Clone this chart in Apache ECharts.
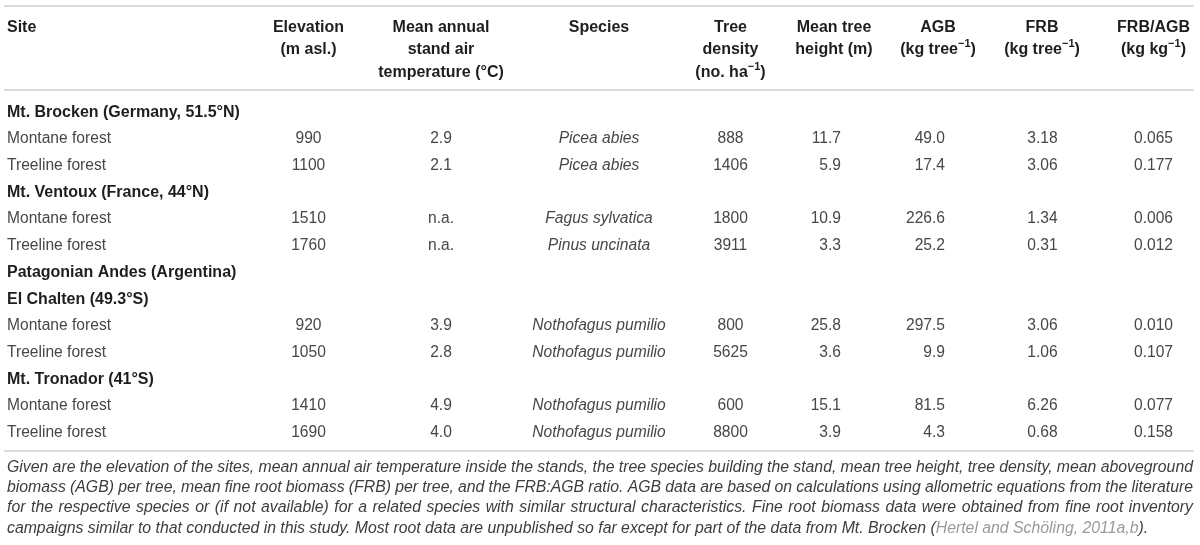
<!DOCTYPE html>
<html>
<head>
<meta charset="utf-8">
<script src="https://cdn.jsdelivr.net/npm/echarts@6/dist/echarts.min.js"></script>
<style>
  html, body { margin: 0; padding: 0; background: #fff; }
  #main { width: 1200px; height: 545px; }
</style>
</head>
<body>
<div id="main"></div>
<script>
// table rows, top to bottom
var rowLabels = [
  'Mt. Brocken (Germany, 51.5°N)', 'Montane forest', 'Treeline forest',
  'Mt. Ventoux (France, 44°N)', 'Montane forest', 'Treeline forest',
  'Patagonian Andes (Argentina)', 'El Chalten (49.3°S)', 'Montane forest', 'Treeline forest',
  'Mt. Tronador (41°S)', 'Montane forest', 'Treeline forest'
];
var headingRows = [0, 3, 6, 7, 10];
var dataRows = [1, 2, 4, 5, 8, 9, 11, 12];

var elevation = [990, 1100, 1510, 1760, 920, 1050, 1410, 1690];
var temperature = [2.9, 2.1, 'n.a.', 'n.a.', 3.9, 2.8, 4.9, 4.0];
var species = ['Picea abies', 'Picea abies', 'Fagus sylvatica', 'Pinus uncinata',
  'Nothofagus pumilio', 'Nothofagus pumilio', 'Nothofagus pumilio', 'Nothofagus pumilio'];
var density = [888, 1406, 1800, 3911, 800, 5625, 600, 8800];
var treeHeight = [11.7, 5.9, 10.9, 3.3, 25.8, 3.6, 15.1, 3.9];
var agb = [49.0, 17.4, 226.6, 25.2, 297.5, 9.9, 81.5, 4.3];
var frb = [3.18, 3.06, 1.34, 0.31, 3.06, 1.06, 6.26, 0.68];
var frbAgb = [0.065, 0.177, 0.006, 0.012, 0.010, 0.107, 0.077, 0.158];

var headers = [
  ['Site'],
  ['Elevation', '(m asl.)'],
  ['Mean annual', 'stand air', 'temperature (°C)'],
  ['Species'],
  ['Tree', 'density', '(no. ha{sup|−1})'],
  ['Mean tree', 'height (m)'],
  ['AGB', '(kg tree{sup|−1})'],
  ['FRB', '(kg tree{sup|−1})'],
  ['FRB/AGB', '(kg kg{sup|−1})']
];

var caption = [
  'Given are the elevation of the sites, mean annual air temperature inside the stands, the tree species building the stand, mean tree height, tree density, mean aboveground',
  'biomass (AGB) per tree, mean fine root biomass (FRB) per tree, and the FRB:AGB ratio. AGB data are based on calculations using allometric equations from the literature',
  'for the respective species or (if not available) for a related species with similar structural characteristics. Fine root biomass data were obtained from fine root inventory',
  'campaigns similar to that conducted in this study. Most root data are unpublished so far except for part of the data from Mt. Brocken (Hertel and Schöling, 2011a,b).'
];
var citation = 'Hertel and Schöling, 2011a,b';

// layout
var FONT = '"Liberation Sans", Arial, Helvetica, sans-serif';
var fontRegular = '15.6px ' + FONT;
var fontItalic = 'italic 15.6px ' + FONT;
var fontBold = 'bold 16px ' + FONT;
var HEAD_LH = 22.6;
var LEFT = 5, RIGHT = 1193;

// head: x of header text, cell: x of the values
var columns = [
  { head: 7, headAlign: 'left', cell: 7, align: 'left' },
  { head: 308.5, headAlign: 'center', cell: 308.5, align: 'center' },
  { head: 441, headAlign: 'center', cell: 441, align: 'center' },
  { head: 599, headAlign: 'center', cell: 599, align: 'center' },
  { head: 730.5, headAlign: 'center', cell: 730.5, align: 'center' },
  { head: 834, headAlign: 'center', cell: 841, align: 'right' },
  { head: 938, headAlign: 'center', cell: 945, align: 'right' },
  { head: 1042, headAlign: 'center', cell: 1042.5, align: 'center' },
  { head: 1153.5, headAlign: 'center', cell: 1153.5, align: 'center' }
];

var valueColumns = [
  { col: 1, values: elevation, digits: 0 },
  { col: 2, values: temperature, digits: 1 },
  { col: 3, values: species, italic: true },
  { col: 4, values: density, digits: 0 },
  { col: 5, values: treeHeight, digits: 1 },
  { col: 6, values: agb, digits: 1 },
  { col: 7, values: frb, digits: 2 },
  { col: 8, values: frbAgb, digits: 3 }
];

function fmt(v, d) {
  return typeof v === 'number' ? v.toFixed(d) : v;
}

var bodyCells = [];
rowLabels.forEach(function (label, r) {
  var heading = headingRows.indexOf(r) >= 0;
  bodyCells.push({
    value: [columns[0].cell, r, label],
    align: 'left',
    font: heading ? fontBold : fontRegular,
    fill: heading ? '#1e1e1e' : '#474747'
  });
});
valueColumns.forEach(function (vc) {
  vc.values.forEach(function (v, i) {
    bodyCells.push({
      value: [columns[vc.col].cell, dataRows[i], fmt(v, vc.digits)],
      align: columns[vc.col].align,
      font: vc.italic ? fontItalic : fontRegular,
      fill: '#474747'
    });
  });
});

var headCells = headers.map(function (lines, c) {
  return { value: [columns[c].head, 0, lines.join('\n')], align: columns[c].headAlign };
});

// caption: justified lines, last line left aligned
var ctx = document.createElement('canvas').getContext('2d');
function capFont(size) { return 'italic ' + size + 'px ' + FONT; }
ctx.font = capFont(15);
var capSize = Math.min(17, Math.max(13, 15 * (1149 - 7) / ctx.measureText(caption[3]).width));
ctx.font = capFont(capSize);

var capElements = [];
caption.forEach(function (line, i) {
  var y = 467.3 + i * 20.3;
  if (i === caption.length - 1) {
    capElements.push({
      type: 'text', x: 7, y: y, silent: true,
      style: {
        text: line.replace(citation, '{cite|' + citation + '}'),
        font: capFont(capSize), fill: '#3d3d3d', verticalAlign: 'middle',
        rich: { cite: { font: capFont(capSize), fill: '#9a9a9a' } }
      }
    });
    return;
  }
  var words = line.split(' ');
  var widths = words.map(function (w) { return ctx.measureText(w).width; });
  var total = widths.reduce(function (a, b) { return a + b; }, 0);
  var gap = (RIGHT - 7 - total) / (words.length - 1);
  var x = 7;
  words.forEach(function (w, k) {
    capElements.push({
      type: 'text', x: x, y: y, silent: true,
      style: { text: w, font: capFont(capSize), fill: '#3d3d3d', verticalAlign: 'middle' }
    });
    x += widths[k] + gap;
  });
});

var ruleStyle = { color: '#dadada', width: 2 };
var hiddenAxis = { axisTick: { show: false }, axisLabel: { show: false }, splitLine: { show: false } };

var myChart = echarts.init(document.getElementById('main'));
myChart.setOption({
  animation: false,
  backgroundColor: '#fff',
  grid: [
    { left: LEFT, right: 1200 - RIGHT, top: 5.7, height: 84.3 },
    { left: LEFT, right: 1200 - RIGHT, top: 98.85, height: 347.1 }
  ],
  xAxis: [
    Object.assign({ type: 'value', gridIndex: 0, position: 'top', min: LEFT, max: RIGHT,
      axisLine: { show: true, lineStyle: ruleStyle } }, hiddenAxis),
    Object.assign({ type: 'value', gridIndex: 0, position: 'bottom', min: LEFT, max: RIGHT,
      axisLine: { show: true, lineStyle: ruleStyle } }, hiddenAxis),
    Object.assign({ type: 'value', gridIndex: 1, position: 'bottom', min: LEFT, max: RIGHT, offset: 5,
      axisLine: { show: true, lineStyle: ruleStyle } }, hiddenAxis)
  ],
  yAxis: [
    { type: 'category', gridIndex: 0, data: ['header'], show: false },
    { type: 'category', gridIndex: 1, data: rowLabels, inverse: true, show: false }
  ],
  graphic: capElements,
  series: [
    {
      type: 'custom',
      xAxisIndex: 0,
      yAxisIndex: 0,
      silent: true,
      data: headCells.map(function (c) { return c.value; }),
      renderItem: function (params, api) {
        var cell = headCells[params.dataIndex];
        var p = api.coord([api.value(0), 0]);
        return {
          type: 'text',
          x: p[0],
          y: p[1] - 1.5 * HEAD_LH + 2,
          style: {
            text: cell.value[2],
            font: fontBold,
            fill: '#1e1e1e',
            align: cell.align,
            verticalAlign: 'top',
            lineHeight: HEAD_LH,
            rich: { sup: { font: 'bold 11px ' + FONT, fill: '#1e1e1e', verticalAlign: 'top', lineHeight: 16 } }
          }
        };
      }
    },
    {
      type: 'custom',
      xAxisIndex: 2,
      yAxisIndex: 1,
      silent: true,
      data: bodyCells.map(function (c) { return c.value; }),
      renderItem: function (params, api) {
        var cell = bodyCells[params.dataIndex];
        var p = api.coord([api.value(0), api.value(1)]);
        return {
          type: 'text',
          x: p[0],
          y: p[1],
          style: {
            text: cell.value[2],
            font: cell.font,
            fill: cell.fill,
            align: cell.align,
            verticalAlign: 'middle'
          }
        };
      }
    }
  ]
});
</script>
</body>
</html>
